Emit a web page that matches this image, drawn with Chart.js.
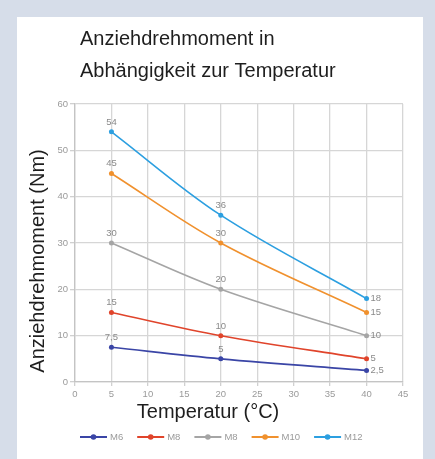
<!DOCTYPE html>
<html>
<head>
<meta charset="utf-8">
<script src="https://cdn.jsdelivr.net/npm/chart.js@4/dist/chart.umd.min.js"></script>
<style>
html, body { margin: 0; padding: 0; background: #d6dde9; }
#wrap { position: relative; width: 435px; height: 459px; overflow: hidden; }
#panel { position: absolute; left: 17px; top: 17px; width: 406px; height: 442px; background: #fff; }
#graph { position: absolute; left: 0; top: 0; }
</style>
</head>
<body>
<div id="wrap">
  <div id="panel"></div>
  <canvas id="graph" width="435" height="459"></canvas>
</div>
<script>
// values
const temps = [5, 20, 40];
const names = ['M6', 'M8', 'M8', 'M10', 'M12'];
const m6 = [7.5, 5, 2.5];
const m8 = [15, 10, 5];
const m8b = [30, 20, 10];
const m10 = [45, 30, 15];
const m12 = [54, 36, 18];
const colors = ['#3a45a6', '#e0442b', '#a5a5a5', '#f0912e', '#2c9fe0'];

const titleLines = ['Anziehdrehmoment in', 'Abhängigkeit zur Temperatur'];
const yTitle = 'Anziehdrehmoment (Nm)';
const xTitle = 'Temperatur (°C)';

const FONT = '"Liberation Sans", Arial, sans-serif';

function series(vals) {
    return vals.map((v, i) => ({ x: temps[i], y: v }));
}

const data = {
    datasets: [m6, m8, m8b, m10, m12].map((vals, i) => ({
        label: names[i],
        data: series(vals),
        borderColor: colors[i],
        backgroundColor: colors[i],
        borderWidth: 1.6,
        pointRadius: 2.5,
        pointBorderWidth: 0,
        tension: 0.35,
    }))
};

function fmt(v) {
    return String(v).replace('.', ',');
}

// titles, data labels and legend drawn on top
const overlay = {
    id: 'overlay',
    afterDatasetsDraw(chart) {
        const ctx = chart.ctx;
        ctx.save();
        ctx.font = '9.5px ' + FONT;
        ctx.fillStyle = '#8a8a8a';
        chart.data.datasets.forEach((ds, i) => {
            const meta = chart.getDatasetMeta(i);
            meta.data.forEach((pt, j) => {
                const last = j === meta.data.length - 1;
                if (last) {
                    ctx.textAlign = 'left';
                    ctx.textBaseline = 'middle';
                    ctx.fillText(fmt(ds.data[j].y), pt.x + 4, pt.y);
                } else {
                    ctx.textAlign = 'center';
                    ctx.textBaseline = 'bottom';
                    ctx.fillText(fmt(ds.data[j].y), pt.x, pt.y - 5);
                }
            });
        });
        ctx.restore();
    },
    afterDraw(chart) {
        const ctx = chart.ctx;
        ctx.save();
        // chart title
        ctx.fillStyle = '#1e1e1e';
        ctx.font = '20px ' + FONT;
        ctx.textAlign = 'left';
        ctx.textBaseline = 'alphabetic';
        ctx.fillText(titleLines[0], 80, 45);
        ctx.fillText(titleLines[1], 80, 77);

        // axis titles
        ctx.font = '20px ' + FONT;
        ctx.textAlign = 'center';
        ctx.fillText(xTitle, 208, 418);
        ctx.save();
        ctx.translate(44, 261);
        ctx.rotate(-Math.PI / 2);
        ctx.textBaseline = 'alphabetic';
        ctx.fillText(yTitle, 0, 0);
        ctx.restore();

        // legend
        ctx.font = '9.5px ' + FONT;
        ctx.textBaseline = 'middle';
        ctx.textAlign = 'left';
        let x = 80;
        const y = 437;
        chart.data.datasets.forEach((ds) => {
            ctx.strokeStyle = ds.borderColor;
            ctx.fillStyle = ds.borderColor;
            ctx.lineWidth = 2;
            ctx.beginPath();
            ctx.moveTo(x, y);
            ctx.lineTo(x + 27, y);
            ctx.stroke();
            ctx.beginPath();
            ctx.arc(x + 13.5, y, 2.8, 0, Math.PI * 2);
            ctx.fill();
            ctx.fillStyle = '#9a9a9a';
            ctx.fillText(ds.label, x + 30, y);
            x += 30 + ctx.measureText(ds.label).width + 14;
        });
        ctx.restore();
    }
};

const config = {
    type: 'line',
    data: data,
    options: {
        responsive: false,
        animation: false,
        events: [],
        layout: {
            padding: { left: 0, top: 104, right: 32, bottom: 57 }
        },
        scales: {
            x: {
                type: 'linear',
                min: 0,
                max: 45,
                ticks: { stepSize: 5, color: '#9a9a9a', font: { size: 9.5, family: FONT }, padding: 3 },
                grid: { color: '#d6d6d6', lineWidth: 1.3, tickLength: 4, tickColor: '#d0d0d0' },
                border: { color: '#c4c4c4', width: 1.3 },
                afterFit: (s) => { s.height = 20; }
            },
            y: {
                min: 0,
                max: 60,
                ticks: { stepSize: 10, color: '#9a9a9a', font: { size: 9.5, family: FONT }, padding: 2 },
                grid: { color: '#d6d6d6', lineWidth: 1.3, tickLength: 5, tickColor: '#d0d0d0' },
                border: { color: '#c4c4c4', width: 1.3 },
                afterFit: (s) => { s.width = 75; }
            }
        },
        plugins: {
            legend: { display: false },
            title: { display: false },
            tooltip: { enabled: false }
        }
    },
    plugins: [overlay]
};

const chart = new Chart(document.getElementById('graph'), config);
</script>
</body>
</html>
